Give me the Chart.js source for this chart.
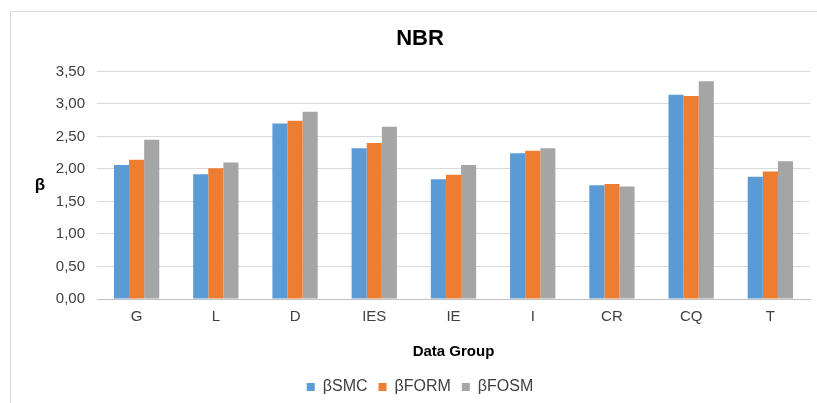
<!DOCTYPE html>
<html>
<head>
<meta charset="utf-8">
<script src="https://cdn.jsdelivr.net/npm/chart.js@4"></script>
<style>
  html, body { margin: 0; padding: 0; background: #fff; overflow: hidden; }
  #wrap { position: relative; width: 817px; height: 403px; }
  #frame { position: absolute; left: 10px; top: 11px; width: 900px; height: 500px; border: 1px solid #d9d9d9; }
  canvas { position: absolute; left: 0; top: 0; }
</style>
</head>
<body>
<div id="wrap">
  <div id="frame"></div>
  <canvas id="myChart" width="817" height="403"></canvas>
</div>
<script>
// data
const groups = ['G', 'L', 'D', 'IES', 'IE', 'I', 'CR', 'CQ', 'T'];
const betaSMC  = [2.06, 1.92, 2.70, 2.32, 1.84, 2.24, 1.75, 3.14, 1.88];
const betaFORM = [2.14, 2.01, 2.74, 2.40, 1.91, 2.28, 1.77, 3.12, 1.96];
const betaFOSM = [2.45, 2.10, 2.88, 2.65, 2.06, 2.32, 1.73, 3.35, 2.12];
const yTitle = 'β';

const font = 'Arial, "Liberation Sans", sans-serif';

// upright y axis title (Chart.js would rotate it)
const uprightTitle = {
    id: 'uprightTitle',
    afterDraw(chart) {
        const c = chart.ctx;
        const area = chart.chartArea;
        c.save();
        c.font = 'bold 17px ' + font;
        c.fillStyle = '#000';
        c.textAlign = 'center';
        c.textBaseline = 'middle';
        c.fillText(yTitle, 40, (area.top + area.bottom) / 2);
        c.restore();
    }
};

const ctx = document.getElementById('myChart').getContext('2d');
new Chart(ctx, {
    type: 'bar',
    data: {
        labels: groups,
        datasets: [
            { label: 'βSMC', data: betaSMC, backgroundColor: '#5B9BD5' },
            { label: 'βFORM', data: betaFORM, backgroundColor: '#ED7D31' },
            { label: 'βFOSM', data: betaFOSM, backgroundColor: '#A5A5A5' }
        ]
    },
    plugins: [uprightTitle],
    options: {
        responsive: false,
        animation: false,
        datasets: { bar: { categoryPercentage: 0.572, barPercentage: 1.0 } },
        layout: { padding: { left: 30, right: 7, top: 0, bottom: -2 } },
        plugins: {
            title: {
                display: true,
                text: 'NBR',
                color: '#000',
                font: { family: font, size: 22, weight: 'bold' },
                padding: { top: 26, bottom: 19 }
            },
            legend: {
                position: 'bottom',
                labels: {
                    color: '#404040',
                    font: { family: font, size: 16 },
                    boxWidth: 8,
                    boxHeight: 8,
                    padding: 11
                }
            },
            tooltip: { enabled: false }
        },
        scales: {
            x: {
                grid: { display: false, drawTicks: false },
                border: { color: '#bfbfbf' },
                ticks: { color: '#404040', font: { family: font, size: 15 }, padding: 9 },
                title: {
                    display: true,
                    text: 'Data Group',
                    color: '#000',
                    font: { family: font, size: 15, weight: 'bold' },
                    padding: { top: 4, bottom: 7 }
                },
                afterFit: s => { s.height = 69; }
            },
            y: {
                min: 0,
                max: 3.5,
                grid: { color: '#d9d9d9', drawTicks: false },
                border: { display: false },
                ticks: {
                    stepSize: 0.5,
                    color: '#404040',
                    font: { family: font, size: 15 },
                    padding: 12,
                    callback: v => v.toFixed(2).replace('.', ',')
                },
                afterFit: s => { s.width = 67; }
            }
        }
    }
});
</script>
</body>
</html>
